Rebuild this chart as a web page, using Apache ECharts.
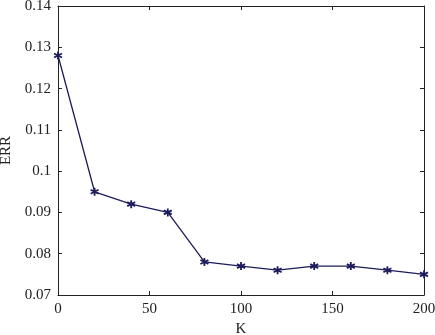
<!DOCTYPE html>
<html><head><meta charset="utf-8">
<script src="https://cdn.jsdelivr.net/npm/echarts@6/dist/echarts.min.js"></script>
<style>html,body{margin:0;padding:0;background:#fff}#c{width:435px;height:335px}</style>
</head><body><div id="c"></div>
<script>
const kValues = [0, 20, 40, 60, 80, 100, 120, 140, 160, 180, 200];
const errValues = [0.128, 0.095, 0.092, 0.090, 0.078, 0.077, 0.076, 0.077, 0.077, 0.076, 0.075];
const xName = 'K';
const yName = 'ERR';

const font = 'Liberation Serif, DejaVu Serif, serif';
const axisCol = '#222';
const lineCol = '#1c1c5c';
const star = 'path://M0,-5L0,5M-4.33,-2.5L4.33,2.5M-4.33,2.5L4.33,-2.5';

const chart = echarts.init(document.getElementById('c'));
const baseX = {
  type: 'value', min: 0, max: 200, interval: 50,
  axisLine: {show: true, onZero: false, lineStyle: {color: axisCol, width: 1}},
  axisTick: {show: true, inside: true, length: 4, lineStyle: {color: axisCol}},
  splitLine: {show: false}
};
const baseY = {
  type: 'value', min: 0.07, max: 0.14, interval: 0.01,
  axisLine: {show: true, onZero: false, lineStyle: {color: axisCol, width: 1}},
  axisTick: {show: true, inside: true, length: 4, lineStyle: {color: axisCol}},
  splitLine: {show: false}
};
chart.setOption({
  animation: false,
  backgroundColor: '#fff',
  grid: {left: 58, right: 11, top: 6, bottom: 40, containLabel: false, outerBoundsMode: 'none'},
  xAxis: [
    Object.assign({}, baseX, {position: 'bottom', name: xName, nameLocation: 'middle', nameGap: 22,
      nameTextStyle: {fontFamily: font, fontSize: 15, color: '#222'},
      axisLabel: {fontFamily: font, fontSize: 15, color: '#222', margin: 7}}),
    Object.assign({}, baseX, {position: 'top', axisLabel: {show: false}})
  ],
  yAxis: [
    Object.assign({}, baseY, {position: 'left', name: yName, nameLocation: 'middle', nameGap: 39,
      nameTextStyle: {fontFamily: font, fontSize: 15, color: '#222'},
      axisLabel: {fontFamily: font, fontSize: 15, color: '#222', margin: 7,
        formatter: v => String(+v.toFixed(2))}}),
    Object.assign({}, baseY, {position: 'right', axisLabel: {show: false}})
  ],
  series: [{
    type: 'line',
    data: kValues.map((k, i) => [k, errValues[i]]),
    lineStyle: {color: lineCol, width: 1.3},
    symbol: star, symbolSize: 8,
    itemStyle: {color: lineCol, borderColor: lineCol, borderWidth: 1.8},
    showSymbol: true
  }]
});
</script></body></html>
